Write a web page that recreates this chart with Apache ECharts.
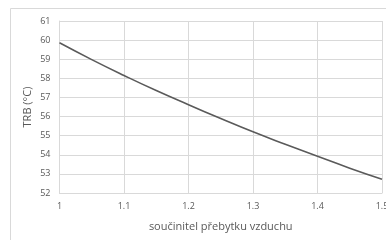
<!DOCTYPE html>
<html><head><meta charset="utf-8">
<script src="https://cdn.jsdelivr.net/npm/echarts@6/dist/echarts.min.js"></script>
<style>html,body{margin:0;padding:0;background:#fff}#c{width:386px;height:240px}</style>
</head><body><div id="c"></div>
<script>
var xValues = [1.0, 1.05, 1.1, 1.15, 1.2, 1.25, 1.3, 1.35, 1.4, 1.45, 1.5];
var yValues = [59.86, 58.98, 58.15, 57.36, 56.62, 55.9, 55.2, 54.55, 53.92, 53.3, 52.72];
var xTitle = 'součinitel přebytku vzduchu';
var yTitle = 'TRB (°C)';
var chart = echarts.init(document.getElementById('c'), null, {renderer:'canvas'});
var font = 'Open Sans';
chart.setOption({
  animation:false,
  graphic:[{type:'rect',shape:{x:10.5,y:8.5,width:420,height:300},style:{fill:'none',stroke:'#d9d9d9',lineWidth:1},silent:true}],
  grid:{left:59.5,top:21,right:4,bottom:47,containLabel:false,outerBoundsMode:'none'},
  xAxis:{type:'value',min:1,max:1.5,interval:0.1,
    name:xTitle,nameLocation:'middle',nameGap:28,nameMoveOverlap:false,
    nameTextStyle:{color:'#595959',fontSize:11,fontFamily:font},
    axisLine:{show:true,lineStyle:{color:'#d9d9d9'}},axisTick:{show:false},
    axisLabel:{color:'#595959',fontSize:9,fontFamily:font,margin:9,formatter:function(v){return String(Math.round(v*10)/10);}},
    splitLine:{show:true,lineStyle:{color:'#d9d9d9',width:1}}},
  yAxis:{type:'value',min:52,max:61,interval:1,
    name:yTitle,nameLocation:'middle',nameGap:26,nameRotate:90,nameMoveOverlap:false,
    nameTextStyle:{color:'#595959',fontSize:11,fontFamily:font},
    axisLine:{show:true,lineStyle:{color:'#d9d9d9'}},axisTick:{show:false},
    axisLabel:{color:'#595959',fontSize:9,fontFamily:font,margin:9},
    splitLine:{show:true,lineStyle:{color:'#d9d9d9',width:1}}},
  series:[{type:'line',data:xValues.map(function(x,i){return [x,yValues[i]];}),
    smooth:true,showSymbol:false,lineStyle:{color:'#5a5a5a',width:1.6}}]
});
</script></body></html>
